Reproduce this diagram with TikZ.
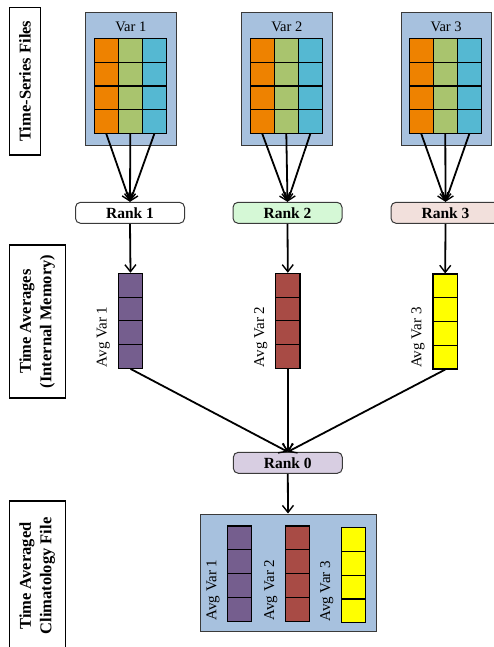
\documentclass[tikz,border=0pt]{standalone}
\usepackage{fontspec}
\setmainfont{Liberation Serif}
\usetikzlibrary{arrows.meta}
\definecolor{varbg}{HTML}{A7C1DE}
\definecolor{corange}{HTML}{EE8200}
\definecolor{cgreen}{HTML}{A9C46E}
\definecolor{ccyan}{HTML}{55B8D2}
\definecolor{cpurple}{HTML}{755E8E}
\definecolor{cred}{HTML}{A84B45}
\definecolor{cyellow}{HTML}{FFFF00}
\definecolor{rkone}{HTML}{FFFFFF}
\definecolor{rktwo}{HTML}{D5F8D6}
\definecolor{rkthree}{HTML}{F2E0DC}
\definecolor{rkzero}{HTML}{D8CEE2}
\definecolor{edgegray}{HTML}{3A3A3A}
\tikzset{
  x=1pt, y=-1pt,
  sidebox/.style={draw=black, line width=1.1pt, fill=white, inner sep=0pt},
  sidetext/.style={font=\fontsize{16.5}{20.5}\selectfont\bfseries, align=center, rotate=90},
  varbox/.style={draw=edgegray, line width=1pt, fill=varbg, minimum width=90.3pt, minimum height=133pt, inner sep=0pt},
  vartext/.style={font=\fontsize{14.5}{16}\selectfont, anchor=base, inner sep=0pt},
  cell/.style={draw=black, line width=1.1pt, minimum width=24pt, minimum height=23.65pt, inner sep=0pt},
  rankbox/.style={draw=edgegray, line width=1pt, rounded corners=5pt, minimum width=109pt, minimum height=21pt, inner sep=0pt, font=\fontsize{15.5}{17}\selectfont\bfseries},
  avgtext/.style={font=\fontsize{15}{17}\selectfont, rotate=90, anchor=south west, inner sep=0pt},
  outbox/.style={draw=edgegray, line width=1pt, fill=varbg, minimum width=176pt, minimum height=117pt, inner sep=0pt},
  arr/.style={-{Straight Barb[length=7pt,width=11pt,line width=1.4pt]}, line width=1.8pt, black},
  ln/.style={line width=1.8pt, black}
}
\begin{document}
\begin{tikzpicture}
\useasboundingbox (0,0) rectangle (494,647);
% side labels
\node[sidebox, minimum width=31.4pt, minimum height=147.7pt] (side1) at (25,81.2) {};
\node[sidetext] (side1t) at (side1.center) {Time-Series Files};
\node[sidebox, minimum width=55.7pt, minimum height=153pt] (side2) at (37.2,321.5) {};
\node[sidetext] (side2t) at (side2.center) {Time Averages\\(Internal Memory)};
\node[sidebox, minimum width=55.7pt, minimum height=153pt] (side3) at (37.2,577.5) {};
\node[sidetext] (side3t) at (37.2,576) {Time Averaged\\Climatology File};

% var boxes with grids
\foreach \i/\cx/\gx in {1/130.85/94.3, 2/286.85/250.3, 3/446.15/409.3} {
  \node[varbox] (var\i) at (\cx,79.2) {};
  \node[vartext] (var\i t) at (\cx,31.5) {Var \i};
  \foreach \c/\col in {1/corange, 2/cgreen, 3/ccyan} {
    \foreach \r in {1,2,3,4} {
      \node[cell, fill=\col] (g\i c\c r\r) at ({\gx+24*\c-12},{38.7+23.65*\r-11.825}) {};
    }
  }
}

% rank boxes
\node[rankbox, fill=rkone] (rank1) at (130,212.8) {Rank 1};
\node[rankbox, fill=rktwo] (rank2) at (287.5,212.8) {Rank 2};
\node[rankbox, fill=rkthree] (rank3) at (445.5,212.8) {Rank 3};

\foreach \i in {1,2,3} {
  \foreach \c in {1,2,3} {
    \draw[arr] (g\i c\c r4.south) -- (rank\i.north);
  }
}

% average bars
\foreach \i/\cx/\col/\yt in {1/130.5/cpurple/273.3, 2/287.8/cred/273.3, 3/445.2/cyellow/274} {
  \foreach \r in {1,2,3,4} {
    \node[cell, fill=\col, minimum width=24.4pt, minimum height=23.75pt] (a\i r\r) at (\cx,{\yt+23.75*\r-11.875}) {};
  }
  \node[avgtext] (a\i t) at ([xshift=-7.6pt,yshift=1.5pt]a\i r4.south west) {Avg Var \i};
}
\draw[arr] (rank1.south) -- (a1r1.north);
\draw[arr] (rank2.south) -- (a2r1.north);
\draw[arr] (rank3.south) -- (a3r1.north);

% rank 0
\node[rankbox, fill=rkzero] (rank0) at (287.8,462.8) {Rank 0};
\draw[arr] (a1r4.south) -- (rank0.north);
\draw[arr] (a2r4.south) -- (rank0.north);
\draw[arr] (a3r4.south) -- (rank0.north);

% output file
\node[outbox] (out) at (288,572.5) {};
\draw[arr] (rank0.south) -- (out.north);
\foreach \i/\cx/\col/\yt in {1/239.85/cpurple/526, 2/297.7/cred/526, 3/353.7/cyellow/527.3} {
  \foreach \r in {1,2,3,4} {
    \node[cell, fill=\col, minimum width=24pt, minimum height=23.9pt] (o\i r\r) at (\cx,{\yt+23.9*\r-11.95}) {};
  }
  \node[avgtext] (o\i t) at ([xshift=-7.6pt,yshift=1.7pt]o\i r4.south west) {Avg Var \i};
}
\end{tikzpicture}
\end{document}
